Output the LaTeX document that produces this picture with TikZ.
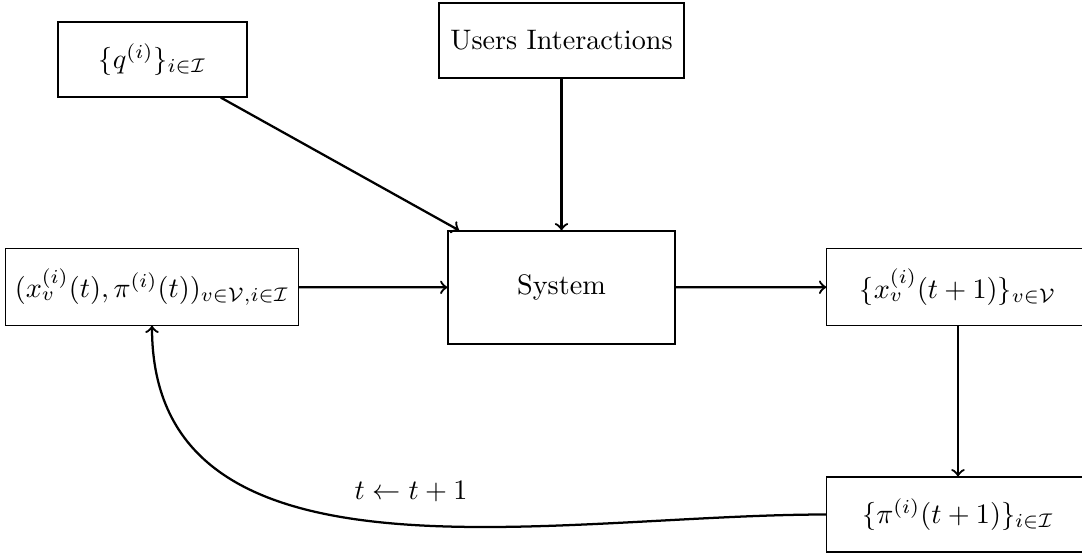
\documentclass[tikz,border=0pt]{standalone}
\usetikzlibrary{arrows}
\begin{document}
\begin{tikzpicture}[x=0.35461pt,y=-0.35461pt,
  block/.style={draw,rectangle,line width=0.4pt,minimum height=26.6pt,align=center},
  flow/.style={->,thick}]
\useasboundingbox (0,0) rectangle (1082,553);
% boxes
\node[block,minimum width=67pt]   (q)      at (152.5,59.5) {$\{q^{(i)}\}_{i\in\mathcal{I}}$};
\node[block,minimum width=86.9pt] (users)  at (561.5,40.5) {Users Interactions};
\node[block,minimum width=102pt,minimum height=27pt]  (state)  at (152,287) {$(x_v^{(i)}(t),\pi^{(i)}(t))_{v\in\mathcal{V},i\in\mathcal{I}}$};
\node[block,minimum width=80.5pt,minimum height=40.1pt] (sys) at (561.5,287.5) {System};
\node[block,minimum width=93pt,minimum height=27pt]   (xnext)  at (958,287) {$\{x_v^{(i)}(t+1)\}_{v\in\mathcal{V}}$};
\node[block,minimum width=93pt]   (pinext) at (958,514.5) {$\{\pi^{(i)}(t+1)\}_{i\in\mathcal{I}}$};
% connectors
\draw[flow] (q) -- (sys);
\draw[flow] (users) -- (sys);
\draw[flow] (state) -- (sys);
\draw[flow] (sys) -- (xnext);
\draw[flow] (xnext) -- (pinext);
\draw[flow] (pinext.west) to[out=180,in=-90]
  node[pos=0.47,above=4.5pt] {$t\leftarrow t+1$} (state.south);
\end{tikzpicture}
\end{document}
